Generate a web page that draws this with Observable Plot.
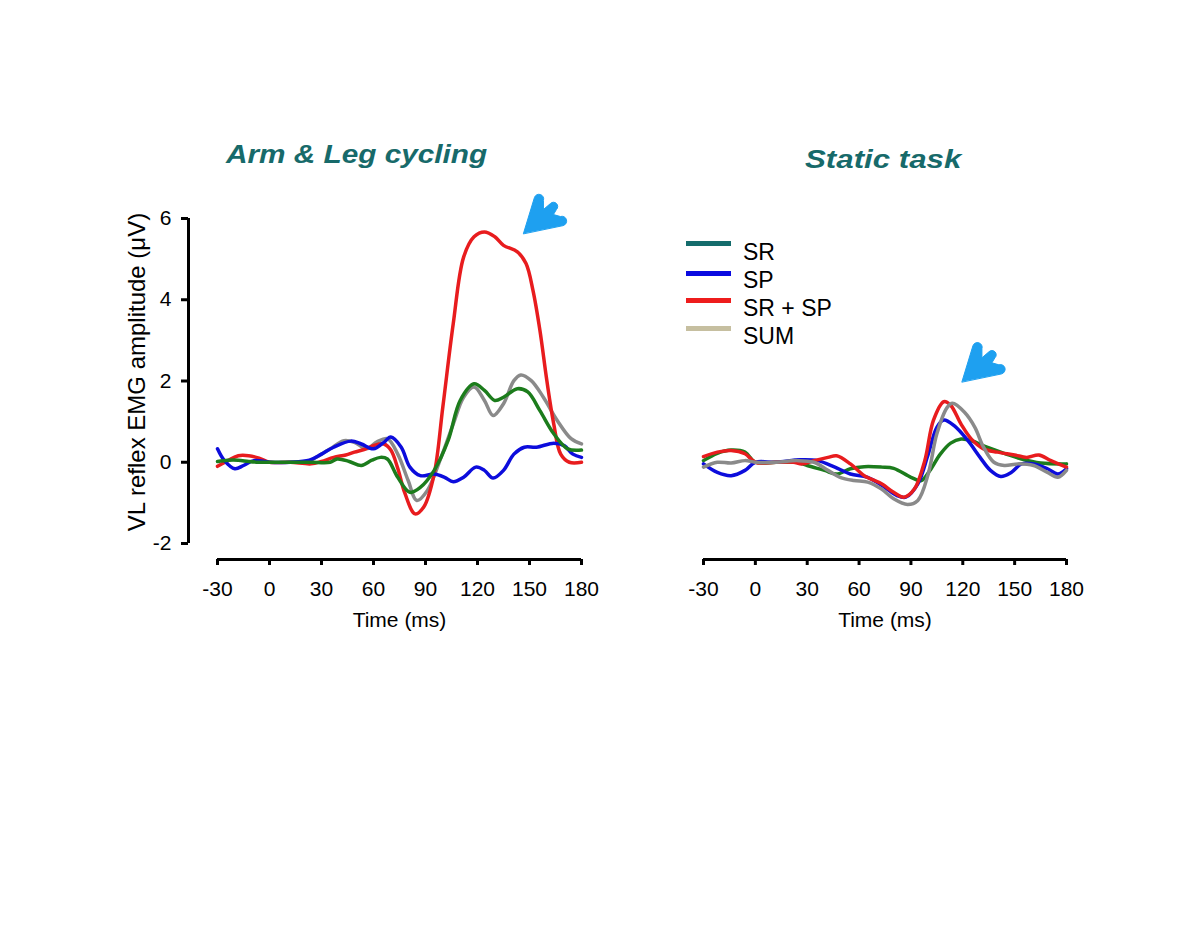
<!DOCTYPE html>
<html>
<head>
<meta charset="utf-8">
<script src="https://cdn.jsdelivr.net/npm/d3@7"></script>
<script src="https://cdn.jsdelivr.net/npm/@observablehq/plot@0.6"></script>
<style>
  body { margin: 0; background: #fff; }
  #root { position: relative; width: 1200px; height: 927px; overflow: hidden; background: #fff;
          font-family: "Liberation Sans", Arial, Helvetica, sans-serif; }
  #root svg { position: absolute; top: 0; }
  .title { position: absolute; font-weight: bold; font-style: italic; color: #176a6a; font-size: 25px;
           line-height: 1; white-space: nowrap; transform-origin: left top; z-index: 2; }
  .sw { position: absolute; left: 686px; width: 45px; height: 5px; z-index: 2; }
  .lt { position: absolute; left: 743px; font-size: 23px; line-height: 1; white-space: nowrap; color: #000; z-index: 2; }
</style>
</head>
<body>
<div id="root">
  <div class="title" style="left:226px; top:142px; transform:scaleX(1.19)">Arm &amp; Leg cycling</div>
  <div class="title" style="left:805px; top:147px; transform:scaleX(1.25)">Static task</div>
</div>
<script>
// ---------- tick values ----------
const xTicks = [-30, 0, 30, 60, 90, 120, 150, 180];
const yTicks = [-2, 0, 2, 4, 6];

// ---------- legend ----------
const legendLabels = ["SR", "SP", "SR + SP", "SUM"];
const legendColors = ["#146c6c", "#0a0ae0", "#ee1c1c", "#c6bfa0"];

// ---------- Arm & Leg cycling ----------
const armRedT = [-30, -24, -18, -12, -6, 0, 12, 24, 30, 37, 44, 49, 55, 60, 66, 70, 74, 78, 84, 89, 95, 100, 106, 112, 118, 124, 130, 135, 143, 148, 152, 156, 160, 164, 168, 173, 180];
const armRedV = [-0.1, 0.04, 0.16, 0.16, 0.1, 0, 0, -0.04, 0.02, 0.12, 0.18, 0.25, 0.32, 0.41, 0.45, 0.3, -0.15, -0.75, -1.27, -1.1, -0.29, 1.36, 3.41, 5.05, 5.55, 5.67, 5.55, 5.34, 5.18, 4.89, 4.23, 3.25, 2.01, 0.94, 0.2, 0, 0];

const armGreenT = [-30, -24, -18, -12, -6, 0, 12, 24, 35, 39, 46, 53, 59, 64, 68, 74, 81, 87, 95, 103, 110, 118, 124, 130, 135, 143, 149, 156, 164, 172, 180];
const armGreenV = [0.02, 0.05, 0.05, 0.02, 0, 0, 0, 0, 0, 0.08, 0.02, -0.08, 0.05, 0.12, 0.08, -0.37, -0.74, -0.62, -0.2, 0.53, 1.52, 1.93, 1.77, 1.52, 1.6, 1.81, 1.73, 1.27, 0.7, 0.33, 0.3];

const armGrayT = [24, 30, 35, 43, 49, 56, 62, 68, 74, 80, 85, 91, 99, 106, 112, 118, 124, 129, 135, 141, 145, 151, 158, 166, 174, 180];
const armGrayV = [0.05, 0.2, 0.33, 0.53, 0.49, 0.33, 0.5, 0.58, 0.2, -0.45, -0.94, -0.7, 0.12, 0.94, 1.6, 1.85, 1.52, 1.15, 1.44, 2.01, 2.15, 2.01, 1.6, 1.03, 0.58, 0.45];

const armBlueT = [-30, -26, -20, -15, -9, 0, 12, 23, 30, 37, 47, 53, 60, 66, 70, 76, 81, 87, 95, 101, 106, 112, 119, 124, 129, 135, 141, 147, 154, 164, 170, 175, 180];
const armBlueV = [0.33, 0.04, -0.16, -0.08, 0.04, 0, 0, 0.05, 0.2, 0.37, 0.52, 0.45, 0.33, 0.49, 0.62, 0.37, -0.12, -0.33, -0.29, -0.37, -0.48, -0.37, -0.12, -0.2, -0.39, -0.2, 0.2, 0.37, 0.37, 0.47, 0.41, 0.2, 0.12];

// ---------- Static task ----------
const stRedT = [-30, -22, -14, -6, 0, 12, 22, 27, 34, 42, 47, 55, 63, 73, 80, 86, 92, 98, 103, 109, 113, 119, 125, 132, 140, 150, 157, 164, 171, 180];
const stRedV = [0.14, 0.25, 0.29, 0.21, 0, 0, 0, -0.04, 0.04, 0.12, 0.16, -0.04, -0.33, -0.53, -0.74, -0.86, -0.66, 0.04, 1.03, 1.49, 1.4, 0.94, 0.57, 0.33, 0.25, 0.18, 0.12, 0.18, 0.04, -0.12];

const stGreenT = [-30, -22, -14, -6, 0, 12, 24, 30, 40, 47, 55, 63, 73, 80, 90, 96, 101, 107, 113, 119, 125, 134, 144, 154, 165, 180];
const stGreenV = [0.04, 0.22, 0.3, 0.25, 0, 0, 0, -0.08, -0.2, -0.29, -0.16, -0.11, -0.12, -0.15, -0.37, -0.45, -0.2, 0.2, 0.47, 0.57, 0.53, 0.37, 0.22, 0.08, -0.02, -0.04];

const stBlueT = [-30, -22, -14, -6, 0, 12, 26, 36, 46, 55, 65, 75, 82, 87, 94, 100, 105, 109, 115, 123, 130, 136, 142, 148, 154, 161, 169, 175, 180];
const stBlueV = [-0.04, -0.25, -0.33, -0.2, 0, 0, 0.06, 0.04, -0.12, -0.29, -0.37, -0.62, -0.82, -0.86, -0.53, 0.2, 0.86, 1.04, 0.9, 0.53, 0.12, -0.2, -0.35, -0.25, -0.04, -0.04, -0.16, -0.29, -0.16];

const stGrayT = [-30, -22, -14, -6, 0, 12, 24, 34, 42, 49, 57, 65, 73, 80, 88, 94, 100, 105, 111, 114, 121, 127, 132, 138, 144, 152, 161, 169, 175, 180];
const stGrayV = [-0.12, 0, -0.02, 0.04, 0, 0, 0.04, 0, -0.2, -0.37, -0.45, -0.49, -0.66, -0.9, -1.04, -0.94, -0.29, 0.7, 1.35, 1.45, 1.23, 0.86, 0.37, 0, -0.08, -0.04, -0.08, -0.25, -0.37, -0.2];

// ---------- arrow annotations (tip position in data units) ----------
const arrowArmT = [146.5], arrowArmV = [5.63];
const arrowStT = [119.5], arrowStV = [1.98];

// ---------- styles ----------
const RED = "#e81c1e", GREEN = "#1c7c1c", BLUE = "#0c0cdc", GRAY = "#8a8a8a", ARROW = "#1ea0f0";
const FONT = '"Liberation Sans", Arial, Helvetica, sans-serif';

const rows = (ts, vs) => ts.map((t, i) => ({t, v: vs[i]}));
const line = (ts, vs, color) => Plot.line(rows(ts, vs), {x: "t", y: "v", stroke: color, strokeWidth: 3.5, curve: "catmull-rom"});

// arrow glyph: thick barbed head with a short stub shaft, tip at the anchor point
function roundEnd(ctx, ax, ay, bx, by) {
  const mx = (ax + bx) / 2, my = (ay + by) / 2;
  const r = Math.hypot(bx - ax, by - ay) / 2;
  const a0 = Math.atan2(ay - my, ax - mx);
  ctx.arc(mx, my, r, a0, a0 + Math.PI, false);
}
const dart = {
  draw(ctx) {
    ctx.moveTo(0, 0);
    ctx.lineTo(11, -36);
    roundEnd(ctx, 11, -36, 20, -33);
    ctx.lineTo(20, -24);
    ctx.lineTo(27, -30);
    roundEnd(ctx, 27, -30, 33, -24);
    ctx.lineTo(30, -19);
    ctx.lineTo(37, -17);
    roundEnd(ctx, 37, -17, 40, -8);
    ctx.closePath();
  }
};
const arrow = (ts, vs) => Plot.vector(rows(ts, vs), {x: "t", y: "v", anchor: "start", shape: dart, length: 40,
  fill: ARROW, stroke: ARROW, strokeWidth: 1, strokeLinejoin: "round"});

const fmt = d => String(d);

const common = {
  height: 660, marginTop: 218, marginBottom: 117,
  x: {domain: [-30, 180]}, y: {domain: [-2, 6]},
  style: {fontFamily: FONT, fontSize: "21px", color: "#000", background: "transparent", overflow: "visible"}
};

const left = Plot.plot({
  ...common,
  width: 610, marginLeft: 217, marginRight: 29,
  marks: [
    Plot.ruleX([-30], {y1: -2, y2: 6, dx: -29, strokeWidth: 3, stroke: "#000"}),
    Plot.axisY(yTicks, {anchor: "left", dx: -29, tickSize: 7, tickPadding: 10, strokeWidth: 3, tickFormat: fmt, label: null, fontSize: 21}),
    Plot.ruleY([-2], {x1: -30, x2: 180, dy: 16, strokeWidth: 3, stroke: "#000"}),
    Plot.axisX(xTicks, {anchor: "bottom", dy: 16, tickSize: 6, tickPadding: 16, strokeWidth: 3, tickFormat: fmt, label: null, fontSize: 21}),
    Plot.text(["VL reflex EMG amplitude (μV)"], {frameAnchor: "left", textAnchor: "middle", rotate: -90, dx: -80, dy: -9, fontSize: 24, text: d => d}),
    Plot.text(["Time (ms)"], {frameAnchor: "bottom", textAnchor: "middle", dy: 69, lineAnchor: "top", fontSize: 21, text: d => d}),
    line(armGrayT, armGrayV, GRAY),
    line(armRedT, armRedV, RED),
    line(armBlueT, armBlueV, BLUE),
    line(armGreenT, armGreenV, GREEN),
    arrow(arrowArmT, arrowArmV)
  ]
});
left.style.left = "0px";

const right = Plot.plot({
  ...common,
  width: 600, marginLeft: 103, marginRight: 134,
  marks: [
    Plot.ruleY([-2], {x1: -30, x2: 180, dy: 16, strokeWidth: 3, stroke: "#000"}),
    Plot.axisX(xTicks, {anchor: "bottom", dy: 16, tickSize: 6, tickPadding: 16, strokeWidth: 3, tickFormat: fmt, label: null, fontSize: 21}),
    Plot.axisY({ticks: [], label: null}),
    Plot.text(["Time (ms)"], {frameAnchor: "bottom", textAnchor: "middle", dy: 69, lineAnchor: "top", fontSize: 21, text: d => d}),
    line(stGreenT, stGreenV, GREEN),
    line(stBlueT, stBlueV, BLUE),
    line(stRedT, stRedV, RED),
    line(stGrayT, stGrayV, GRAY),
    arrow(arrowStT, arrowStV)
  ]
});
right.style.left = "600px";

const root = document.getElementById("root");
root.appendChild(left);
root.appendChild(right);

// legend (HTML, built from the legend arrays)
const swTops = [243, 273, 300, 328];
const txTops = [240.5, 268.5, 296.5, 324.5];
legendLabels.forEach((lab, i) => {
  const sw = document.createElement("div");
  sw.className = "sw";
  sw.style.top = (swTops[i] - 2.5) + "px";
  sw.style.background = legendColors[i];
  root.appendChild(sw);
  const tx = document.createElement("div");
  tx.className = "lt";
  tx.style.top = txTops[i] + "px";
  tx.textContent = lab;
  root.appendChild(tx);
});
</script>
</body>
</html>
